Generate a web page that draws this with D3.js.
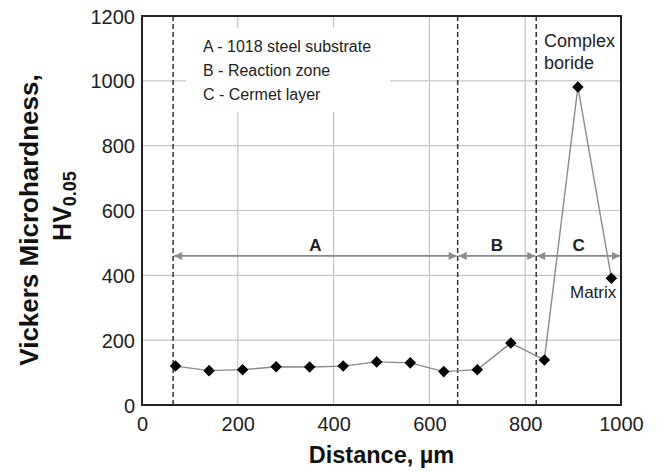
<!DOCTYPE html>
<html>
<head>
<meta charset="utf-8">
<script src="https://cdn.jsdelivr.net/npm/d3@7"></script>
<style>
  body { margin: 0; background: #fff; }
  svg { display: block; font-family: "Liberation Sans", Arial, sans-serif; }
</style>
</head>
<body>
<svg id="chart" width="657" height="472"></svg>
<script>
// ---- data ----
const distance = [70, 140, 210, 280, 350, 420, 490, 560, 630, 700, 770, 840, 910, 980];
const hardness = [120, 106, 109, 118, 117, 120, 133, 130, 103, 109, 191, 139, 981, 391];
const xTicks = [0, 200, 400, 600, 800, 1000];
const yTicks = [0, 200, 400, 600, 800, 1000, 1200];
const zoneBounds = [65, 659, 823, 1000];
const zoneLabels = ["A", "B", "C"];
const dashedLines = [65, 659, 823];
const legendLines = ["A - 1018 steel substrate", "B - Reaction zone", "C - Cermet layer"];
const arrowLevel = 460;

(function () {
// ---- layout ----
const svg = d3.select("#chart");
const pLeft = 142, pRight = 621, pTop = 16, pBottom = 405;
const x = d3.scaleLinear().domain([0, 1000]).range([pLeft, pRight]);
const y = d3.scaleLinear().domain([0, 1200]).range([pBottom, pTop]);

// grid
const grid = svg.append("g");
grid.selectAll(".vg").data(xTicks.filter(d => d > 0 && d < 1000)).join("line")
  .attr("x1", d => x(d)).attr("x2", d => x(d)).attr("y1", pTop).attr("y2", pBottom)
  .attr("stroke", "#c4c4c4").attr("stroke-width", 1.2);
grid.selectAll(".hg").data(yTicks.filter(d => d > 0 && d < 1200)).join("line")
  .attr("x1", pLeft).attr("x2", pRight).attr("y1", d => y(d)).attr("y2", d => y(d))
  .attr("stroke", "#c4c4c4").attr("stroke-width", 1.2);

// legend white box covering grid
svg.append("rect").attr("x", 186).attr("y", 28).attr("width", 204).attr("height", 84).attr("fill", "#fff");
svg.append("g").selectAll("text").data(legendLines).join("text")
  .attr("x", 203).attr("y", (d, i) => 52 + i * 24)
  .attr("font-size", 16).attr("fill", "#222").text(d => d);

// dashed zone boundaries
svg.append("g").selectAll("line").data(dashedLines).join("line")
  .attr("x1", d => x(d)).attr("x2", d => x(d)).attr("y1", pTop).attr("y2", pBottom)
  .attr("stroke", "#333").attr("stroke-width", 1.5).attr("stroke-dasharray", "5,3");

// zone arrows
const arrowColor = "#8a8a8a";
const defs = svg.append("defs");
defs.append("marker").attr("id", "ah").attr("viewBox", "0 0 10 10").attr("refX", 10).attr("refY", 5)
  .attr("markerWidth", 10).attr("markerHeight", 8).attr("markerUnits", "userSpaceOnUse")
  .attr("orient", "auto-start-reverse")
  .append("path").attr("d", "M0,0 L10,5 L0,10 Z").attr("fill", arrowColor);
const zones = zoneLabels.map((l, i) => ({ label: l, a: zoneBounds[i], b: zoneBounds[i + 1] }));
const zg = svg.append("g");
zg.selectAll("line").data(zones).join("line")
  .attr("x1", d => x(d.a) + 1).attr("x2", d => x(d.b) - 1)
  .attr("y1", y(arrowLevel)).attr("y2", y(arrowLevel))
  .attr("stroke", arrowColor).attr("stroke-width", 1.8)
  .attr("marker-start", "url(#ah)").attr("marker-end", "url(#ah)");
zg.selectAll("text").data(zones).join("text")
  .attr("x", d => x((d.a + d.b) / 2)).attr("y", y(arrowLevel) - 5)
  .attr("text-anchor", "middle").attr("font-size", 17).attr("font-weight", "bold").attr("fill", "#222")
  .text(d => d.label);

// data line + markers
const line = d3.line().x((d, i) => x(distance[i])).y(d => y(d));
svg.append("path").datum(hardness).attr("d", line)
  .attr("fill", "none").attr("stroke", "#8c8c8c").attr("stroke-width", 1.4);
svg.append("g").selectAll("path").data(hardness).join("path")
  .attr("transform", (d, i) => `translate(${x(distance[i])},${y(d)})`)
  .attr("d", d3.symbol().type(d3.symbolDiamond2).size(85))
  .attr("fill", "#000");

// annotations
const ann = svg.append("g").attr("font-size", 18).attr("fill", "#222");
ann.append("text").attr("x", 544).attr("y", 47).text("Complex");
ann.append("text").attr("x", 544).attr("y", 69).text("boride");
ann.append("text").attr("x", 570).attr("y", 298).attr("font-size", 17).text("Matrix");

// axes
const xAxis = svg.append("g").attr("transform", `translate(0,${pBottom})`)
  .call(d3.axisBottom(x).tickValues(xTicks).tickFormat(d3.format("d")).tickSize(0).tickPadding(12));
const yAxis = svg.append("g").attr("transform", `translate(${pLeft},0)`)
  .call(d3.axisLeft(y).tickValues(yTicks).tickFormat(d3.format("d")).tickSize(0).tickPadding(7));
[xAxis, yAxis].forEach(g => {
  g.select(".domain").remove();
  g.selectAll("text").attr("font-size", 20).attr("fill", "#222")
    .attr("font-family", "'Liberation Sans', Arial, sans-serif");
});
yAxis.selectAll("text").attr("dy", "0.35em");

// frame
svg.append("rect").attr("x", pLeft).attr("y", pTop).attr("width", pRight - pLeft).attr("height", pBottom - pTop)
  .attr("fill", "none").attr("stroke", "#222").attr("stroke-width", 2);

// axis titles
svg.append("text").attr("x", (pLeft + pRight) / 2).attr("y", 463).attr("text-anchor", "middle")
  .attr("font-size", 23.5).attr("font-weight", "bold").attr("fill", "#111").text("Distance, µm");
svg.append("text").attr("transform", "translate(38,220) rotate(-90)").attr("text-anchor", "middle")
  .attr("font-size", 26).attr("font-weight", "bold").attr("fill", "#111").text("Vickers Microhardness,");
const t2 = svg.append("text").attr("transform", "translate(71,206) rotate(-90)").attr("text-anchor", "middle")
  .attr("font-size", 25).attr("font-weight", "bold").attr("fill", "#111");
t2.append("tspan").text("HV");
t2.append("tspan").attr("font-size", 18).attr("dy", 5).text("0.05");
})();
</script>
</body>
</html>
